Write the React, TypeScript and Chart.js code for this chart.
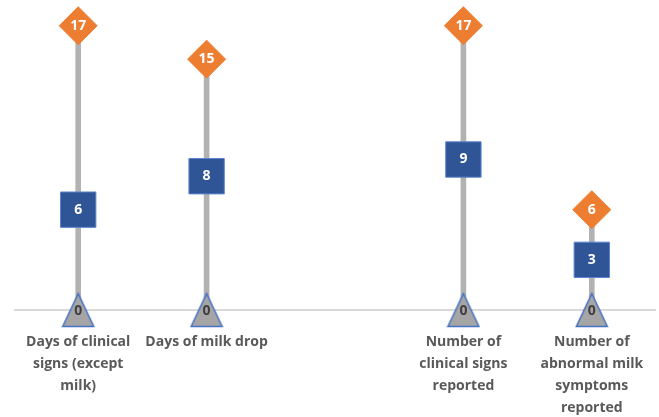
import React, { useEffect, useRef } from "react";
import { Chart, registerables } from "chart.js";

Chart.register(...registerables);

const categories: string[][] = [
  ["Days of clinical", "signs (except", "milk)"],
  ["Days of milk drop"],
  [""],
  ["Number of", "clinical signs", "reported"],
  ["Number of", "abnormal milk", "symptoms", "reported"],
];
const minValues: (number | null)[] = [0, 0, null, 0, 0];
const medianValues: (number | null)[] = [6, 8, null, 9, 3];
const maxValues: (number | null)[] = [17, 15, null, 17, 6];

function makeTriangle(): HTMLCanvasElement {
  const c = document.createElement("canvas");
  c.width = 34;
  c.height = 36;
  const ctx = c.getContext("2d")!;
  ctx.beginPath();
  ctx.moveTo(17, 1.5);
  ctx.lineTo(32.5, 34.5);
  ctx.lineTo(1.5, 34.5);
  ctx.closePath();
  ctx.fillStyle = "#a5a5a5";
  ctx.fill();
  ctx.strokeStyle = "#4472c4";
  ctx.lineWidth = 1.5;
  ctx.stroke();
  return c;
}

const labelPlugin = {
  id: "pointLabels",
  afterDatasetsDraw(chart: any) {
    const ctx = chart.ctx;
    chart.data.datasets.forEach((ds: any, i: number) => {
      if (!ds.labelColor) return;
      const meta = chart.getDatasetMeta(i);
      meta.data.forEach((el: any, j: number) => {
        const v = ds.data[j];
        if (v === null || v === undefined) return;
        ctx.save();
        ctx.fillStyle = ds.labelColor;
        ctx.font = "bold 14px 'Open Sans'";
        ctx.textAlign = "center";
        ctx.textBaseline = "middle";
        ctx.fillText(String(v), el.x, el.y + (ds.labelDy || 0));
        ctx.restore();
      });
    });
  },
};

export default function App() {
  const ref = useRef<HTMLCanvasElement>(null);
  useEffect(() => {
    const tri = makeTriangle();
    const chart = new Chart(ref.current!, {
      type: "bar",
      data: {
        labels: categories,
        datasets: [
          {
            type: "line",
            data: maxValues,
            showLine: false,
            clip: false,
            pointStyle: "rectRot",
            pointRadius: 19,
            pointBackgroundColor: "#ed7d31",
            pointBorderColor: "#ed7d31",
            pointBorderWidth: 1,
            order: 1,
            labelColor: "#ffffff",
          } as any,
          {
            type: "line",
            data: medianValues,
            showLine: false,
            clip: false,
            pointStyle: "rect",
            pointRadius: 25,
            pointBackgroundColor: "#2f5597",
            pointBorderColor: "#5b84cc",
            pointBorderWidth: 1,
            order: 2,
            labelColor: "#ffffff",
          } as any,
          {
            type: "line",
            data: minValues,
            showLine: false,
            clip: false,
            pointStyle: tri,
            pointRadius: 17,
            order: 3,
            labelColor: "#404040",
            labelDy: 1,
          } as any,
          {
            type: "bar",
            data: maxValues.map((v) => (v === null ? null : [0, v])) as any,
            backgroundColor: "#b2b2b2",
            barThickness: 5,
            clip: false,
            order: 4,
          } as any,
        ],
      },
      options: {
        responsive: false,
        animation: false,
        events: [],
        layout: { autoPadding: false, padding: { left: 14, right: 3, top: 9, bottom: -15 } } as any,
        plugins: { legend: { display: false }, tooltip: { enabled: false } },
        scales: {
          x: {
            offset: true,
            grid: { display: false, drawTicks: true, tickLength: 8 },
            border: { display: false },
            ticks: {
              color: "#595959",
              padding: 13,
              font: { family: "'Open Sans'", size: 14, weight: "bold", lineHeight: "22px" } as any,
              maxRotation: 0,
              autoSkip: false,
            },
          },
          y: {
            min: 0,
            max: 18,
            border: { display: false },
            grid: {
              drawTicks: false,
              color: (c: any) => (c.tick && c.tick.value === 0 ? "#d9d9d9" : "rgba(0,0,0,0)"),
              lineWidth: 2,
            },
            ticks: { display: false, stepSize: 1 },
          },
        },
      },
      plugins: [labelPlugin],
    });
    return () => chart.destroy();
  }, []);
  return (
    <div style={{ position: "absolute", left: 0, top: 0, width: 659, height: 417, background: "#fff" }}>
      <canvas ref={ref} width={659} height={417} />
    </div>
  );
}
